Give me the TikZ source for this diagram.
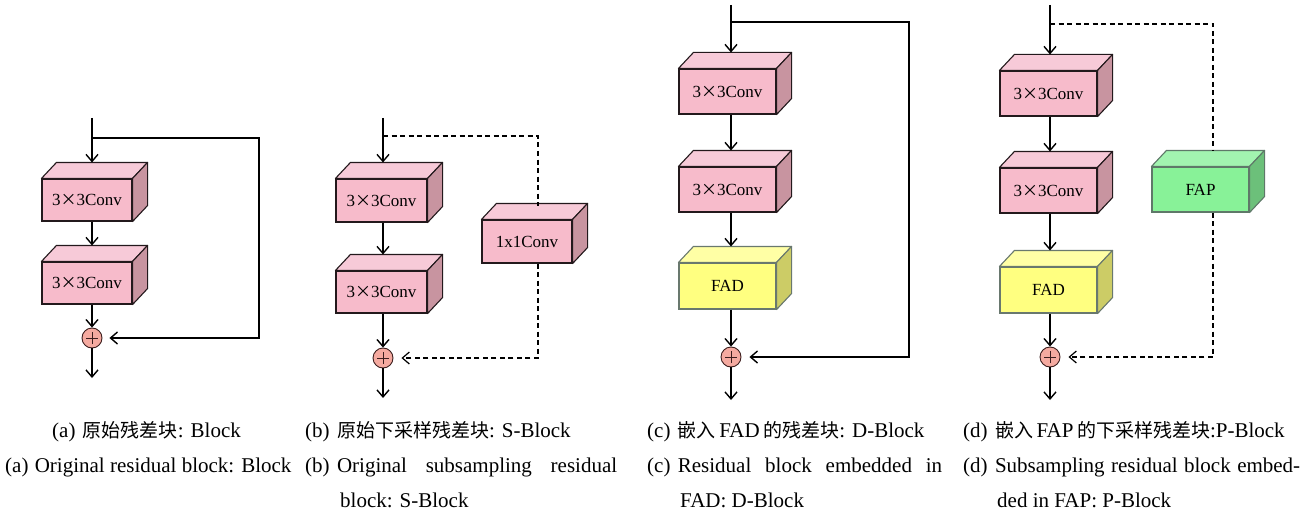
\documentclass[tikz,border=0pt]{standalone}
\usepackage{fontspec}
\setmainfont{Liberation Serif}
\newfontfamily\cjk{Noto Sans CJK SC}
\usetikzlibrary{arrows.meta,calc}
\definecolor{pinkF}{RGB}{247,187,203}
\definecolor{pinkT}{RGB}{247,202,216}
\definecolor{pinkS}{RGB}{200,148,160}
\definecolor{pinkE}{RGB}{35,25,28}
\definecolor{yelF}{RGB}{255,255,128}
\definecolor{yelT}{RGB}{255,255,165}
\definecolor{yelS}{RGB}{204,204,102}
\definecolor{yelE}{RGB}{105,120,110}
\definecolor{grnF}{RGB}{136,242,152}
\definecolor{grnT}{RGB}{162,244,176}
\definecolor{grnS}{RGB}{108,192,122}
\definecolor{grnE}{RGB}{95,120,105}
\definecolor{sumF}{RGB}{245,170,160}
\definecolor{sumE}{RGB}{60,30,30}
\tikzset{
  cube/.style={rectangle, inner sep=0pt, line width=1.1pt, font=\fontsize{17}{19}\selectfont},
  conn/.style={line width=1.5pt, -{Straight Barb[length=7pt,width=12pt,line width=1.4pt]}},
  plain/.style={line width=1.5pt},
  dashline/.style={line width=1.2pt, dash pattern=on 5pt off 3.5pt},
  darrow/.style={dashline, -{Straight Barb[length=7pt,width=12pt,line width=1.2pt]}},
  sum/.style={circle, minimum size=20pt, inner sep=0pt, draw=sumE, fill=sumF, line width=0.9pt,
    path picture={
      \draw[line width=0.8pt,sumE] ([xshift=-6pt]path picture bounding box.center) -- ([xshift=6pt]path picture bounding box.center);
      \draw[line width=0.8pt,sumE] ([yshift=-6pt]path picture bounding box.center) -- ([yshift=6pt]path picture bounding box.center);}},
  capt/.style={anchor=base west, inner sep=0pt, font=\fontsize{21}{24}\selectfont},
}
\newcommand\cjkf[1]{{\cjk\fontsize{19}{22}\selectfont #1}}
\newcommand\cubenode[6]{%
  \node[cube, minimum width=#3, minimum height=#4, fill=#5F, draw=#5E] (#1) at #2 {#6};
  \filldraw[fill=#5T, draw=#5E, line width=1.1pt, line join=round] (#1.north west) -- ++(15,-16) -- ([shift={(15,-16)}]#1.north east) -- (#1.north east) -- cycle;
  \filldraw[fill=#5S, draw=#5E, line width=1.1pt, line join=round] (#1.north east) -- ++(15,-16) -- ([shift={(15,-16)}]#1.south east) -- (#1.south east) -- cycle;
  \coordinate (#1-t) at ([yshift=16pt]#1.north);
}
\newcommand\conv{3{\cjk\fontsize{16}{18}\selectfont ×}3Conv}
\begin{document}
\begin{tikzpicture}[x=1pt,y=-1pt]
\useasboundingbox (0,0) rectangle (1314,516);
% ---------- (a)
\cubenode{a1}{(87,200)}{90pt}{42pt}{pink}{\conv}
\cubenode{a2}{(87,283)}{90pt}{42pt}{pink}{\conv}
\node[sum] (as) at (92,338) {};
\coordinate (ain) at (92,118);
\coordinate (aout) at (92,378);
\coordinate (ar) at (259,138);
\draw[conn] (ain) -- (ain |- a1-t);
\draw[conn] (a1.south -| ain) -- (ain |- a2-t);
\draw[conn] (a2.south -| ain) -- (as.north);
\draw[conn] (as.south) -- (aout);
\draw[conn, shorten >=7pt] (ain |- ar) -- (ar) -- (ar |- as) -- (as.east);
% ---------- (b)
\cubenode{b1}{(381.5,200.5)}{91pt}{43pt}{pink}{\conv}
\cubenode{b2}{(381.5,292)}{91pt}{42pt}{pink}{\conv}
\cubenode{b3}{(527,241.5)}{90pt}{43pt}{pink}{1x1Conv}
\node[sum] (bs) at (383,358) {};
\coordinate (bin) at (383,118);
\coordinate (bout) at (383,398);
\coordinate (br) at (538,136);
\draw[conn] (bin) -- (bin |- b1-t);
\draw[conn] (b1.south -| bin) -- (bin |- b2-t);
\draw[conn] (b2.south -| bin) -- (bs.north);
\draw[conn] (bs.south) -- (bout);
\draw[dashline] (bin |- br) -- (br) -- ($(br |- b3-t)+(0,3)$);
\draw[darrow, shorten >=8pt] (b3.south -| br) -- (br |- bs) -- (bs.east);
% ---------- (c)
\cubenode{c1}{(727.5,91.5)}{97pt}{45pt}{pink}{\conv}
\cubenode{c2}{(727.5,189.5)}{97pt}{45pt}{pink}{\conv}
\cubenode{c3}{(727.5,286)}{97pt}{46pt}{yel}{FAD}
\node[sum] (cs) at (731,357) {};
\coordinate (cin) at (731,5);
\coordinate (cout) at (731,400);
\coordinate (cr) at (909,22);
\draw[conn] (cin) -- (cin |- c1-t);
\draw[conn] (c1.south -| cin) -- (cin |- c2-t);
\draw[conn] (c2.south -| cin) -- (cin |- c3-t);
\draw[conn] (c3.south -| cin) -- (cs.north);
\draw[conn] (cs.south) -- (cout);
\draw[conn, shorten >=8pt] (cin |- cr) -- (cr) -- (cr |- cs) -- (cs.east);
% ---------- (d)
\cubenode{d1}{(1048.5,93.5)}{97pt}{45pt}{pink}{\conv}
\cubenode{d2}{(1048.5,190.5)}{97pt}{45pt}{pink}{\conv}
\cubenode{d3}{(1048.5,290)}{97pt}{46pt}{yel}{FAD}
\cubenode{d4}{(1200.5,189.5)}{97pt}{45pt}{grn}{FAP}
\node[sum] (ds) at (1050,357) {};
\coordinate (din) at (1050,5);
\coordinate (dout) at (1050,400);
\coordinate (dr) at (1213,24);
\draw[conn] (din) -- (din |- d1-t);
\draw[conn] (d1.south -| din) -- (din |- d2-t);
\draw[conn] (d2.south -| din) -- (din |- d3-t);
\draw[conn] (d3.south -| din) -- (ds.north);
\draw[conn] (ds.south) -- (dout);
\draw[dashline] (din |- dr) -- (dr) -- (dr |- d4-t);
\draw[darrow, shorten >=8pt] (d4.south -| dr) -- (dr |- ds) -- (ds.east);
% ---------- captions
\node[capt] (ta1) at (52,437) {(a)\hspace{.35em}\cjkf{原始残差块}: Block};
\node[capt] (ta2) at (5,472) {(a)\hspace{.3em}Original residual block: Block};
\node[capt] (tb1) at (305,437) {(b)\hspace{.35em}\cjkf{原始下采样残差块}: S-Block};
\node[capt] (tb2) at (305,472) {\makebox[312pt][s]{(b)\hspace{.35em}Original subsampling residual}};
\node[capt] (tb3) at (340,507) {block: S-Block};
\node[capt] (tc1) at (647,437) {(c)\hspace{.35em}\cjkf{嵌入}\,FAD\,\cjkf{的残差块}: D-Block};
\node[capt] (tc2) at (647,472) {\makebox[295pt][s]{(c)\hspace{.35em}Residual block embedded in}};
\node[capt] (tc3) at (680,507) {FAD: D-Block};
\node[capt] (td1) at (963,437) {(d)\hspace{.35em}\cjkf{嵌入}\,FAP\,\cjkf{的下采样残差块}:P-Block};
\node[capt] (td2) at (963,472) {\makebox[337pt][s]{(d)\hspace{.35em}Subsampling residual block embed-}};
\node[capt] (td3) at (997,507) {ded in FAP: P-Block};
\end{tikzpicture}
\end{document}
